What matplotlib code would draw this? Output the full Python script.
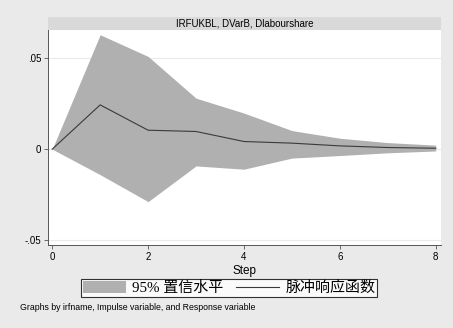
import numpy as np
import matplotlib.pyplot as plt
from matplotlib.patches import Patch
from matplotlib.lines import Line2D

# --- data ---
steps = [0, 1, 2, 3, 4, 5, 6, 7, 8]
irf = [0.0, 0.0243, 0.0104, 0.0097, 0.0042, 0.0033, 0.0018, 0.0009, 0.0005]
upper = [0.0, 0.0628, 0.0509, 0.0280, 0.0198, 0.0102, 0.0060, 0.0036, 0.0022]
lower = [0.0, -0.0140, -0.0288, -0.0092, -0.0110, -0.0049, -0.0035, -0.0020, -0.0010]

ytick_vals = [-0.05, 0, 0.05]
ytick_labels = ['-.05', '0', '.05']
xtick_vals = [0, 2, 4, 6, 8]

title = 'IRFUKBL, DVarB, Dlabourshare'
ci_label = '95% 置信水平'
irf_label = '脉冲响应函数'
note = 'Graphs by irfname, Impulse variable, and Response variable'

plt.rcParams['font.family'] = ['Liberation Sans', 'Noto Sans CJK SC']

W, H = 453, 328
fig = plt.figure(figsize=(W / 100, H / 100), dpi=100, facecolor='#eaeaea')

# main plot region
ax = fig.add_axes([48 / W, 1 - 245 / H, 393 / W, 215 / H], facecolor='white')
ax.fill_between(steps, lower, upper, color='#b0b0b0', linewidth=0, zorder=2)
ax.plot(steps, irf, color='#3a3a3a', linewidth=0.8, zorder=3)

ax.set_xlim(-0.088, 8.11)
ax.set_ylim(-0.0526, 0.0654)
ax.set_yticks(ytick_vals)
ax.set_yticklabels(ytick_labels)
ax.set_xticks(xtick_vals)
ax.tick_params(axis='both', labelsize=7, length=3, width=0.6,
               color='#555555', pad=2)
ax.grid(True, axis='y', color='#eaeaea', linewidth=0.8, zorder=1)
ax.grid(False, axis='x')
ax.set_axisbelow(True)
for s in ['top', 'right']:
    ax.spines[s].set_visible(False)
for s in ['left', 'bottom']:
    ax.spines[s].set_color('#555555')
    ax.spines[s].set_linewidth(0.7)
ax.set_xlabel('Step', fontsize=8.5, labelpad=2)

# title strip
tax = fig.add_axes([48 / W, 1 - 30 / H, 393 / W, 13 / H], facecolor='#d9d9d9')
tax.set_xticks([])
tax.set_yticks([])
for s in tax.spines.values():
    s.set_visible(False)
tax.text(0.5, 0.5, title, ha='center', va='center', fontsize=7,
         transform=tax.transAxes)

# legend
handles = [Patch(facecolor='#b0b0b0', edgecolor='none'),
           Line2D([0], [0], color='#3a3a3a', linewidth=0.8)]
leg = fig.legend(handles, [ci_label, irf_label], ncol=2,
                 loc='center', bbox_to_anchor=(229 / W, 1 - 288 / H),
                 frameon=True, fancybox=False, edgecolor='black',
                 facecolor='white', handlelength=2.9, handleheight=0.8,
                 columnspacing=0.8, handletextpad=0.4, borderpad=0.15,
                 borderaxespad=0,
                 prop={'family': ['Liberation Serif', 'Noto Sans CJK SC'],
                       'size': 10.8})
leg.get_frame().set_linewidth(0.8)

fig.text(20 / W, 1 - 307 / H, note, fontsize=6.3, va='center', ha='left')

fig.savefig('out.png', dpi=100, facecolor=fig.get_facecolor())
